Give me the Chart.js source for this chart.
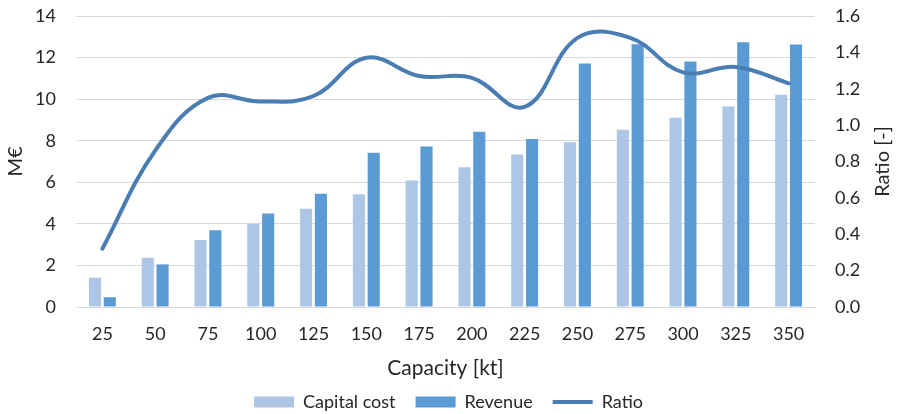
<!DOCTYPE html>
<html>
<head>
<meta charset="utf-8">
<script src="https://cdn.jsdelivr.net/npm/chart.js@4.4.1/dist/chart.umd.min.js"></script>
<style>
    body { margin: 0; background: #fff; }
    #wrap { width: 897px; height: 414px; position: relative; }
</style>
</head>
<body>
<div id="wrap"><canvas id="capacityChart"></canvas></div>
<script>
// values
const capacities = ['25', '50', '75', '100', '125', '150', '175', '200', '225', '250', '275', '300', '325', '350'];
const capitalCost = [1.41, 2.37, 3.22, 4.01, 4.73, 5.42, 6.08, 6.72, 7.34, 7.93, 8.53, 9.10, 9.65, 10.21];
const revenue = [0.47, 2.05, 3.69, 4.50, 5.45, 7.42, 7.72, 8.43, 8.08, 11.72, 12.64, 11.81, 12.74, 12.63];
const ratio = [0.32, 0.86, 1.15, 1.13, 1.16, 1.37, 1.27, 1.26, 1.10, 1.48, 1.48, 1.29, 1.32, 1.23];

const FONT = 'Lato';
const TEXT = '#262626';
const GRID = '#d9d9d9';

// right axis title reads bottom-to-top, so draw it ourselves
const rightTitle = {
    id: 'rightTitle',
    afterDraw(chart) {
        const { ctx, chartArea } = chart;
        ctx.save();
        ctx.font = `20px ${FONT}`;
        ctx.fillStyle = TEXT;
        ctx.textAlign = 'center';
        ctx.textBaseline = 'middle';
        ctx.translate(chart.width - 14, (chartArea.top + chartArea.bottom) / 2);
        ctx.rotate(-Math.PI / 2);
        ctx.fillText('Ratio [-]', 0, 0);
        ctx.restore();
    }
};

// legend padding doubles as item gap; cap the box height so it stays compact
const legendHeight = {
    id: 'legendHeight',
    beforeLayout(chart) {
        const leg = chart.legend;
        if (!leg || leg._capped) return;
        const fit = leg.fit.bind(leg);
        leg.fit = function () {
            fit();
            this.height = 41;
        };
        leg._capped = true;
    }
};

// keep the vertical axes from reserving extra room above/below
const fitY = w => s => {
    s.width = w;
    s.paddingTop = 0;
    s.paddingBottom = 0;
};

new Chart(document.getElementById('capacityChart'), {
    type: 'bar',
    data: {
        labels: capacities,
        datasets: [
            {
                label: 'Capital cost',
                data: capitalCost,
                backgroundColor: '#aec6e6',
                yAxisID: 'y',
                order: 2,
                pointStyle: 'rect',
                categoryPercentage: 0.56,
                barPercentage: 0.82
            },
            {
                label: 'Revenue',
                data: revenue,
                backgroundColor: '#5b9bd5',
                yAxisID: 'y',
                order: 2,
                pointStyle: 'rect',
                categoryPercentage: 0.56,
                barPercentage: 0.82
            },
            {
                type: 'line',
                label: 'Ratio',
                data: ratio,
                borderColor: '#4a7eb3',
                backgroundColor: '#4a7eb3',
                borderWidth: 4,
                borderCapStyle: 'round',
                tension: 0.4,
                pointRadius: 0,
                pointStyle: 'line',
                yAxisID: 'y1',
                order: 1
            }
        ]
    },
    options: {
        responsive: true,
        maintainAspectRatio: false,
        animation: false,
        layout: { padding: { top: 16, bottom: 0 } },
        plugins: {
            legend: {
                position: 'bottom',
                labels: {
                    font: { family: FONT, size: 18 },
                    color: TEXT,
                    usePointStyle: true,
                    pointStyleWidth: 40,
                    boxHeight: 11,
                    padding: 20,
                    sort: (a, b) => a.datasetIndex - b.datasetIndex
                }
            },
            tooltip: { enabled: false }
        },
        scales: {
            x: {
                grid: { display: false, drawTicks: false },
                border: { display: true, color: GRID, width: 1 },
                ticks: { font: { family: FONT, size: 18, lineHeight: 1 }, color: TEXT, padding: 18 },
                title: {
                    display: true,
                    text: 'Capacity [kt]',
                    font: { family: FONT, size: 21, lineHeight: 1 },
                    color: TEXT,
                    padding: { top: 0, bottom: -6 }
                },
                afterFit: s => { s.height = 66; }
            },
            y: {
                position: 'left',
                min: 0,
                max: 14,
                ticks: { stepSize: 2, font: { family: FONT, size: 18 }, color: TEXT, padding: 20 },
                grid: { color: GRID, drawTicks: false },
                border: { display: false },
                title: {
                    display: true,
                    text: 'M€',
                    font: { family: FONT, size: 20 },
                    color: TEXT,
                    padding: { top: 4, bottom: 0 }
                },
                afterFit: fitY(76)
            },
            y1: {
                position: 'right',
                min: 0,
                max: 1.6,
                ticks: {
                    stepSize: 0.2,
                    font: { family: FONT, size: 18 },
                    color: TEXT,
                    padding: 20,
                    callback: v => v.toFixed(1)
                },
                grid: { display: false, drawTicks: false },
                border: { display: false },
                afterFit: fitY(82)
            }
        }
    },
    plugins: [rightTitle, legendHeight]
});
</script>
</body>
</html>
